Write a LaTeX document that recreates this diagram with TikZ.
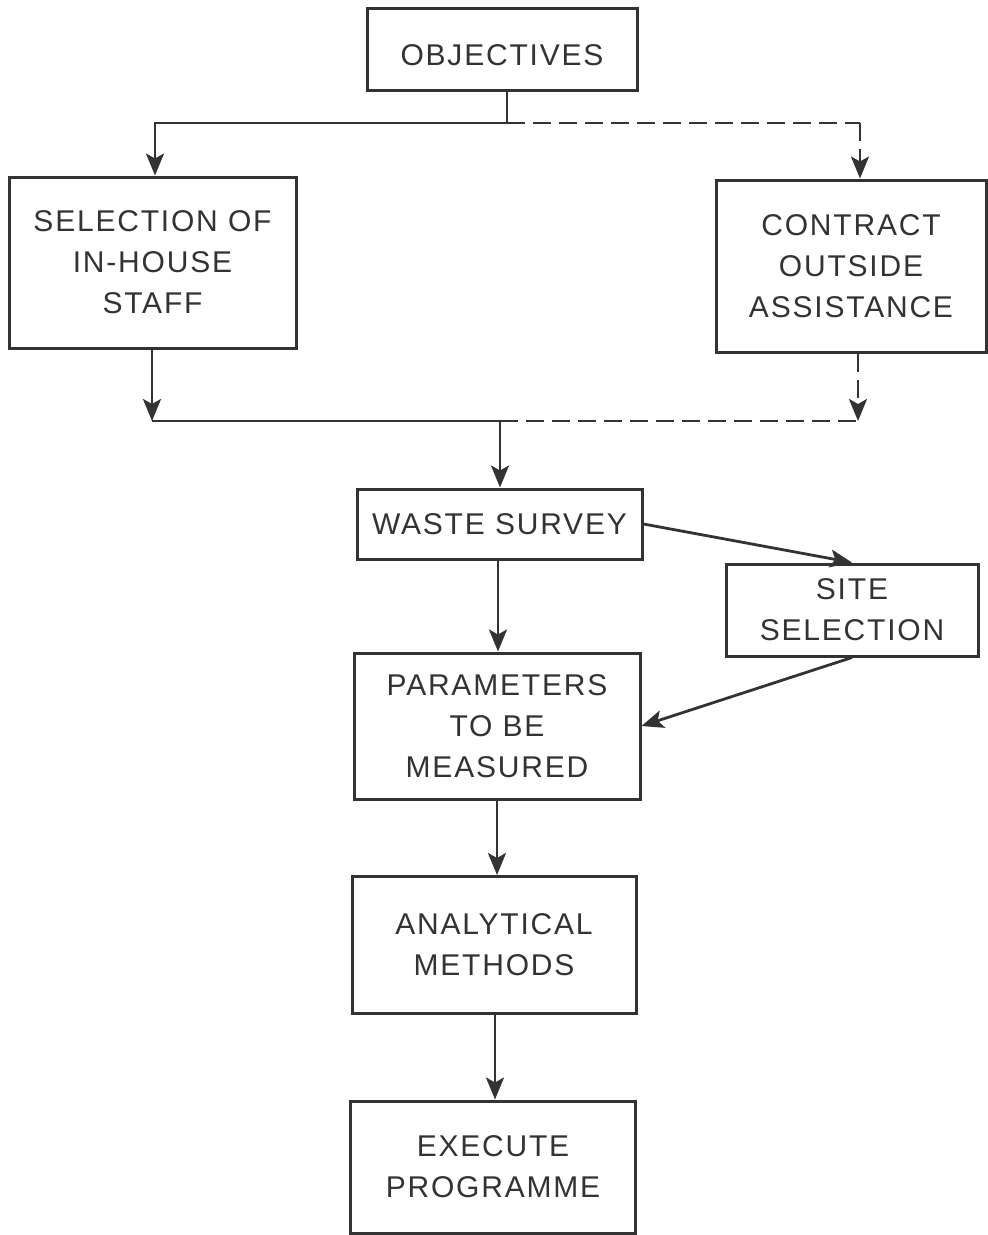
\documentclass[tikz,border=0pt]{standalone}
\usepackage{fontspec}
\setmainfont{Liberation Sans}[LetterSpace=6]
\usetikzlibrary{arrows.meta}
\definecolor{ink}{HTML}{333333}
\begin{document}
\begin{tikzpicture}[x=1pt,y=-1pt,
  box/.style={draw=ink, line width=3pt, align=center, inner sep=0pt,
              font=\fontsize{30}{41}\selectfont, text=ink},
  link/.style={draw=ink, line width=2.8pt},
  dashlink/.style={link, dash pattern=on 18pt off 8pt},
  tip/.style={-{Stealth[length=22pt,width=18pt,inset=5pt]}},
  flow/.style={link, tip}]
\useasboundingbox[fill=white] (0,0) rectangle (988,1235);

% boxes
\node[box, minimum width=270pt, minimum height=82pt,
      text height=33pt, text depth=0pt]               (obj)      at (502,49)   {OBJECTIVES};
\node[box, minimum width=287pt, minimum height=171pt] (staff)    at (152.5,262.5) {SELECTION OF\\IN-HOUSE\\STAFF};
\node[box, minimum width=270pt, minimum height=172pt] (contract) at (851,266)  {CONTRACT\\OUTSIDE\\ASSISTANCE};
\node[box, minimum width=285pt, minimum height=70pt]  (survey)   at (499.5,524){WASTE SURVEY};
\node[box, minimum width=252pt, minimum height=92pt]  (site)     at (852,610)  {SITE\\SELECTION};
\node[box, minimum width=286pt, minimum height=146pt] (params)   at (497,726)  {PARAMETERS\\TO BE\\MEASURED};
\node[box, minimum width=284pt, minimum height=137pt] (methods)  at (494,945)  {ANALYTICAL\\METHODS};
\node[box, minimum width=285pt, minimum height=132pt] (execute)  at (493,1167) {EXECUTE\\PROGRAMME};

% branching points
\coordinate (j1) at (507,123);
\coordinate (tl) at (155,123);
\coordinate (tr) at (860,123);
\coordinate (bl) at (152,421);
\coordinate (j2) at (500,421);
\coordinate (br) at (858,421);

% vertical runs of the main sequence
\coordinate (c1) at (498,0);
\coordinate (c2) at (497,0);
\coordinate (c3) at (495,0);

% split after objectives
\draw[link] (obj.south -| j1) -- (j1);
\draw[flow] (j1) -- (tl) -- (staff.north -| tl);
\draw[dashlink] (j1) -- (tr);
\draw[dashlink, tip] (tr) -- (contract.north -| tr);

% merge before the survey
\draw[flow] (staff.south -| bl) -- (bl);
\draw[link] (bl) -- (j2);
\draw[dashlink] (j2) -- (br);
\draw[dashlink, tip] (contract.south -| br) -- (br);
\draw[flow] (j2) -- (survey.north -| j2);

% main sequence
\draw[flow] (survey.east) -- (site.north);
\draw[flow] (survey.south -| c1) -- (params.north -| c1);
\draw[flow] (site.south) -- (params.east);
\draw[flow] (params.south -| c2) -- (methods.north -| c2);
\draw[flow] (methods.south -| c3) -- (execute.north -| c3);
\end{tikzpicture}
\end{document}
